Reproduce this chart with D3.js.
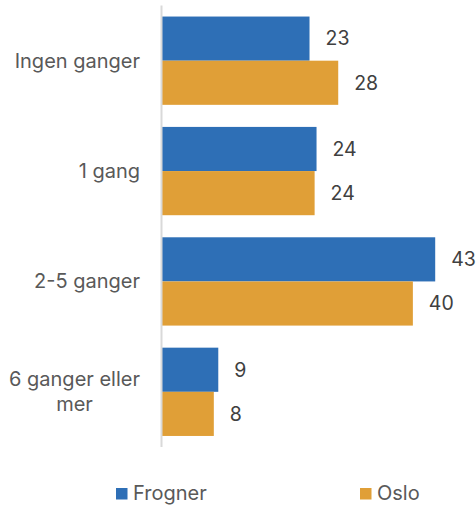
<!DOCTYPE html>
<html>
<head>
<meta charset="utf-8">
<script src="https://cdn.jsdelivr.net/npm/d3@7"></script>
<style>
  html, body { margin: 0; padding: 0; background: #fff; }
  svg { display: block; }
  text { font-family: Inter, "Open Sans", sans-serif; }
</style>
</head>
<body>
<svg id="chart" width="476" height="507"></svg>
<script>
const categories = ["Ingen ganger", "1 gang", "2-5 ganger", "6 ganger eller mer"];
const seriesNames = ["Frogner", "Oslo"];
const frogner = [23.2, 24.3, 42.9, 8.9];
const oslo = [27.7, 24.0, 39.4, 8.2];
const frognerLabels = ["23", "24", "43", "9"];
const osloLabels = ["28", "24", "40", "8"];
const colors = ["#2E6FB6", "#E09F37"];

const svg = d3.select("#chart");
const axisX = 161.5;

const y = d3.scaleBand().domain(categories).range([5.5, 447]).paddingInner(0.2).paddingOuter(0.1);
const ySub = d3.scaleBand().domain(seriesNames).range([0, y.bandwidth()]);
const x = d3.scaleLinear().domain([0, 50]).range([axisX, axisX + 319]);

const seriesValues = [frogner, oslo];
const seriesLabels = [frognerLabels, osloLabels];

const rows = [];
categories.forEach((c, i) => {
  seriesNames.forEach((s, j) => {
    rows.push({ cat: c, series: s, value: seriesValues[j][i], label: seriesLabels[j][i], color: colors[j] });
  });
});

svg.append("g").selectAll("rect").data(rows).join("rect")
  .attr("x", x(0))
  .attr("y", d => y(d.cat) + ySub(d.series))
  .attr("width", d => x(d.value) - x(0))
  .attr("height", ySub.bandwidth())
  .attr("fill", d => d.color);

svg.append("g").selectAll("text").data(rows).join("text")
  .attr("x", d => x(d.value) + 16)
  .attr("y", d => y(d.cat) + ySub(d.series) + ySub.bandwidth() / 2)
  .attr("dy", "0.35em")
  .attr("font-size", 19.5)
  .attr("fill", "#404040")
  .text(d => d.label);

// axis line
const axis = d3.axisLeft(y).tickSize(0).tickFormat("");
const ag = svg.append("g").attr("transform", `translate(${axisX},0)`).call(axis);
ag.select(".domain").attr("stroke", "#D9D9D9").attr("stroke-width", 2)
  .attr("d", `M0,${y.range()[0]}V${y.range()[1]}`);

// category labels with wrapping (one text element per category, lines as tspans)
const labelRight = 140, maxW = 140, lineH = 25, fs = 20;
categories.forEach(c => {
  const words = c.split(" ");
  const tmp = svg.append("text").attr("font-size", fs);
  const lines = [];
  let cur = [];
  words.forEach(w => {
    const test = cur.concat([w]).join(" ");
    tmp.text(test);
    if (tmp.node().getComputedTextLength() > maxW && cur.length) {
      lines.push(cur.join(" "));
      cur = [w];
    } else cur.push(w);
  });
  lines.push(cur.join(" "));
  const widths = lines.map(l => { tmp.text(l); return tmp.node().getComputedTextLength(); });
  tmp.remove();
  const blockW = d3.max(widths);
  const multi = lines.length > 1;
  const cx = multi ? labelRight - blockW / 2 : labelRight;
  const cy = y(c) + y.bandwidth() / 2;
  const t = svg.append("text")
    .attr("text-anchor", multi ? "middle" : "end")
    .attr("font-size", fs)
    .attr("fill", "#595959");
  lines.forEach((l, k) => {
    t.append("tspan")
      .attr("x", cx)
      .attr("y", cy + (k - (lines.length - 1) / 2) * lineH)
      .attr("dy", "0.35em")
      .text(l);
  });
});

// legend
const legendX = [116, 360];
const lg = svg.append("g").selectAll("g").data(seriesNames).join("g")
  .attr("transform", (d, i) => `translate(${legendX[i]},488)`);
lg.append("rect").attr("width", 11.5).attr("height", 11.5).attr("fill", (d, i) => colors[i]);
lg.append("text").attr("x", 17).attr("y", 12).attr("font-size", 20).attr("fill", "#595959").text(d => d);
</script>
</body>
</html>
